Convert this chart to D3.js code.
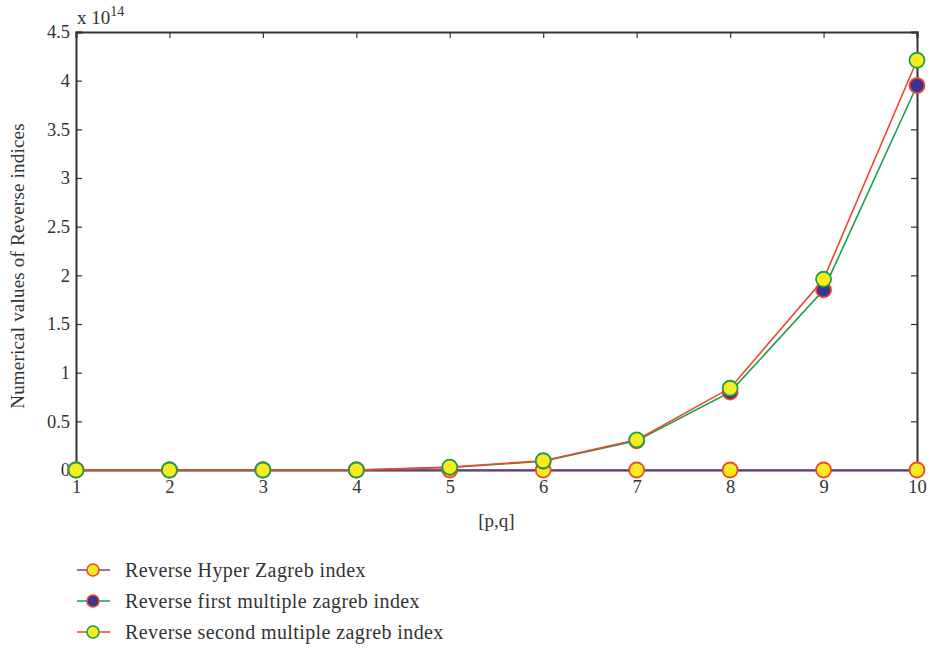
<!DOCTYPE html>
<html>
<head>
<meta charset="utf-8">
<script src="https://cdn.jsdelivr.net/npm/d3@7"></script>
<style>
  body { margin: 0; background: #fff; }
  svg text { font-family: "Liberation Serif", "DejaVu Serif", serif; fill: #333; }
</style>
</head>
<body>
<svg id="chart" width="931" height="648"></svg>
<script>
// [p,q] values along the x axis
const pq = [1, 2, 3, 4, 5, 6, 7, 8, 9, 10];
// Index values, in units of 10^14
const hyperZagreb = [0, 0, 0, 0, 0, 0, 0, 0, 0, 0];
const firstMultiple = [0, 0, 0, 0, 0.025, 0.09, 0.30, 0.80, 1.85, 3.95];
const secondMultiple = [0, 0, 0, 0, 0.03, 0.095, 0.31, 0.84, 1.96, 4.21];
const yTicks = [0, 0.5, 1, 1.5, 2, 2.5, 3, 3.5, 4, 4.5];
const seriesNames = ["Reverse Hyper Zagreb index", "Reverse first multiple zagreb index", "Reverse second multiple zagreb index"];

const series = [
  { name: seriesNames[0], values: hyperZagreb, line: "#7b3fa0", fill: "#f7ec1f", stroke: "#f0462b" },
  { name: seriesNames[1], values: firstMultiple, line: "#1aa04a", fill: "#3a3590", stroke: "#f0462b" },
  { name: seriesNames[2], values: secondMultiple, line: "#f0462b", fill: "#f7ec1f", stroke: "#1aa04a" }
];

const svg = d3.select("#chart");
const plotLeft = 76, plotRight = 917, plotTop = 32, plotBottom = 470;

const x = d3.scaleLinear().domain([1, 10]).range([plotLeft, plotRight]);
const y = d3.scaleLinear().domain([0, 4.5]).range([plotBottom, plotTop]);

const axisColor = "#333";
const tickLen = 6;

// Frame axes, ticks pointing inward
svg.append("g").attr("transform", `translate(0,${plotBottom})`)
  .call(d3.axisBottom(x).tickValues(pq).tickSize(-tickLen).tickPadding(10).tickFormat(d3.format("d")))
  .call(g => g.selectAll("text").attr("font-size", 18.5));
svg.append("g").attr("transform", `translate(0,${plotTop})`)
  .call(d3.axisTop(x).tickValues(pq).tickSize(-tickLen).tickFormat(""));
svg.append("g").attr("transform", `translate(${plotLeft},0)`)
  .call(d3.axisLeft(y).tickValues(yTicks).tickSize(-tickLen).tickPadding(6).tickFormat(d => String(d)))
  .call(g => g.selectAll("text").attr("font-size", 18.5));
svg.append("g").attr("transform", `translate(${plotRight},0)`)
  .call(d3.axisRight(y).tickValues(yTicks).tickSize(-tickLen).tickFormat(""));

svg.selectAll(".domain").attr("stroke", axisColor).attr("stroke-width", 2);
svg.selectAll(".tick line").attr("stroke", axisColor).attr("stroke-width", 1.2);
svg.selectAll(".tick text").attr("fill", "#333");

// Exponent label
const expo = svg.append("text").attr("x", plotLeft + 1).attr("y", 24).attr("font-size", 19);
expo.append("tspan").text("x 10");
expo.append("tspan").attr("dy", -8).attr("font-size", 14).text("14");

// Axis titles
svg.append("text").attr("x", (plotLeft + plotRight) / 2).attr("y", 527)
  .attr("text-anchor", "middle").attr("font-size", 19).text("[p,q]");
svg.append("text").attr("transform", `translate(24,266) rotate(-90)`)
  .attr("text-anchor", "middle").attr("font-size", 19).attr("letter-spacing", 0.2)
  .text("Numerical values of Reverse indices");

// Lines and markers
const line = d3.line().x((d, i) => x(pq[i])).y(d => y(d));
series.forEach(s => {
  svg.append("path").datum(s.values)
    .attr("d", line).attr("fill", "none")
    .attr("stroke", s.line).attr("stroke-width", 1.6);
});
series.forEach(s => {
  svg.append("g").selectAll("circle").data(s.values).join("circle")
    .attr("cx", (d, i) => x(pq[i])).attr("cy", d => y(d)).attr("r", 7.5)
    .attr("fill", s.fill).attr("stroke", s.stroke).attr("stroke-width", 1.8);
});

// Legend
const legend = svg.append("g");
series.forEach((s, i) => {
  const ly = 570 + i * 31;
  legend.append("line").attr("x1", 77).attr("x2", 110).attr("y1", ly).attr("y2", ly)
    .attr("stroke", s.line).attr("stroke-width", 1.6);
  legend.append("circle").attr("cx", 93).attr("cy", ly).attr("r", 6)
    .attr("fill", s.fill).attr("stroke", s.stroke).attr("stroke-width", 1.6);
  legend.append("text").attr("x", 125).attr("y", ly + 7).attr("font-size", 20)
    .attr("letter-spacing", 0.4).text(s.name);
});
</script>
</body>
</html>
